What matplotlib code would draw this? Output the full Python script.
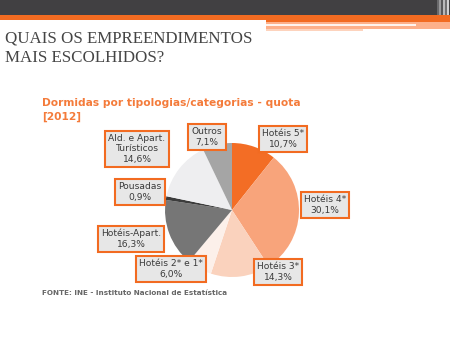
import matplotlib
matplotlib.use("Agg")
import matplotlib.pyplot as plt
from matplotlib.patches import Rectangle

# ── Data ────────────────────────────────────────────────────────────────────
CATEGORIES = ["Hotéis 5*", "Hotéis 4*", "Hotéis 3*", "Hotéis 2* e 1*",
              "Hotéis-Apart.", "Pousadas", "Ald. e Apart.\nTurísticos", "Outros"]
SHARES = [10.7, 30.1, 14.3, 6.0, 16.3, 0.9, 14.6, 7.1]
COLORS = ["#F36D25", "#F8A47B", "#FAD2BD", "#FCF0EA",
          "#767676", "#3C3C3C", "#EEEEF0", "#A5A5A5"]

TITLE = "QUAIS OS EMPREENDIMENTOS\nMAIS ESCOLHIDOS?"
CHART_TITLE = "Dormidas por tipologias/categorias - quota\n[2012]"
SOURCE = "FONTE: INE - Instituto Nacional de Estatística"

# label box centres, in pixels from the top-left corner
LABEL_POS = [(283, 139), (325, 205), (278, 272), (171, 269),
             (131, 239), (140, 192), (137, 149), (207, 137)]

W, H = 450, 338
ORANGE = "#F26B21"

fig = plt.figure(figsize=(W / 100, H / 100), dpi=100)
fig.patch.set_facecolor("white")


def px(x, y):
    return x / W, 1 - y / H


def band(x0, y0, x1, y1, color):
    fig.patches.append(Rectangle((x0 / W, 1 - y1 / H), (x1 - x0) / W, (y1 - y0) / H,
                                 transform=fig.transFigure, facecolor=color,
                                 edgecolor="none", zorder=0))


# ── Header bars ─────────────────────────────────────────────────────────────
band(0, 0, 450, 15, "#414042")
band(0, 15, 450, 20, ORANGE)
band(266, 20, 450, 22, ORANGE)
band(266, 22, 450, 29, "#FDB08A")
band(266, 24.5, 416, 25.5, "#FFF4EE")
band(266, 29, 363, 30.5, "#FDD3BD")
for i, c in enumerate(["#6A6A6C", "#9A9A9C", "#58585A", "#B8B8BA", "#707072", "#D0D0D2"]):
    band(437 + i * 2, 0, 439 + i * 2, 15, c)

# ── Slide title ─────────────────────────────────────────────────────────────
fig.text(*px(5, 48), TITLE, fontsize=12.2, family="Liberation Serif",
         color="#454545", ha="left", va="center", linespacing=1.3)

fig.text(*px(42, 110), CHART_TITLE, fontsize=7.7, fontweight="bold",
         color="#F47B3A", ha="left", va="center", linespacing=1.5)

fig.text(*px(42, 293), SOURCE, fontsize=5.2, fontweight="bold",
         color="#666666", ha="left", va="center")

# ── Pie ─────────────────────────────────────────────────────────────────────
cx, cy, r = 232, 210, 67
ax = fig.add_axes([(cx - r) / W, (H - cy - r) / H, 2 * r / W, 2 * r / H])
ax.pie(SHARES, colors=COLORS, startangle=90, counterclock=False, radius=1,
       wedgeprops=dict(linewidth=0))
ax.set_xlim(-1, 1)
ax.set_ylim(-1, 1)
ax.set_aspect("equal")
ax.axis("off")

for name, share, (lx, ly) in zip(CATEGORIES, SHARES, LABEL_POS):
    label = f"{name}\n" + f"{share:.1f}%".replace(".", ",")
    fig.text(*px(lx, ly), label, fontsize=6.6, color="#3A3A3A",
             ha="center", va="center", linespacing=1.25, zorder=5,
             bbox=dict(boxstyle="square,pad=0.35", facecolor="#E7E7E7",
                       edgecolor=ORANGE, linewidth=1.5))

fig.savefig("out.png", dpi=100)
